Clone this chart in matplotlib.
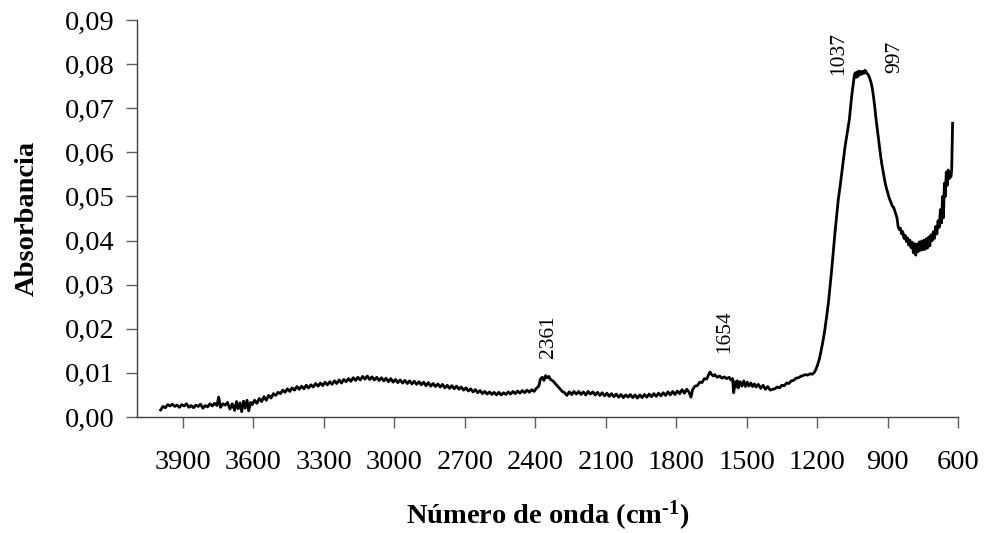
import numpy as np
import matplotlib
matplotlib.use("Agg")
import matplotlib.pyplot as plt
from matplotlib.ticker import FixedLocator, FuncFormatter

plt.rcParams['font.family'] = ['Liberation Serif', 'DejaVu Serif']
plt.rcParams['mathtext.fontset'] = 'custom'
plt.rcParams['mathtext.rm'] = 'Liberation Serif:bold'
plt.rcParams['mathtext.it'] = 'Liberation Serif:bold'
plt.rcParams['mathtext.bf'] = 'Liberation Serif:bold'

# FTIR spectrum: wavenumber (cm-1) and absorbance, listed band by band
wavenumber = [
    # 4000-3610: noisy low baseline
    3995, 3985, 3975, 3965, 3955, 3945, 3935, 3925, 3915, 3905, 3895, 3885, 3875, 3865, 3855, 3845,
    3835, 3825, 3815, 3805, 3795, 3785, 3775, 3765, 3755, 3748, 3740, 3730, 3720, 3710, 3700, 3690,
    3680, 3672, 3665, 3657, 3650, 3642, 3635, 3627, 3620, 3612,
    # 3605-2405: broad O-H hump
    3605, 3595, 3585, 3575, 3565, 3555, 3545, 3535, 3525, 3515, 3505, 3495, 3485, 3475, 3465, 3455,
    3445, 3435, 3425, 3415, 3405, 3395, 3385, 3375, 3365, 3355, 3345, 3335, 3325, 3315, 3305, 3295,
    3285, 3275, 3265, 3255, 3245, 3235, 3225, 3215, 3205, 3195, 3185, 3175, 3165, 3155, 3145, 3135,
    3125, 3115, 3105, 3095, 3085, 3075, 3065, 3055, 3045, 3035, 3025, 3015, 3005, 2995, 2985, 2975,
    2965, 2955, 2945, 2935, 2925, 2915, 2905, 2895, 2885, 2875, 2865, 2855, 2845, 2835, 2825, 2815,
    2805, 2795, 2785, 2775, 2765, 2755, 2745, 2735, 2725, 2715, 2705, 2695, 2685, 2675, 2665, 2655,
    2645, 2635, 2625, 2615, 2605, 2595, 2585, 2575, 2565, 2555, 2545, 2535, 2525, 2515, 2505, 2495,
    2485, 2475, 2465, 2455, 2445, 2435, 2425, 2415, 2405,
    # CO2 band
    2395, 2385, 2378, 2370, 2363, 2356, 2349, 2342, 2335, 2325, 2315, 2305, 2295, 2285, 2275,
    # 2265-1745: flat region
    2265, 2255, 2245, 2235, 2225, 2215, 2205, 2195, 2185, 2175, 2165, 2155, 2145, 2135, 2125, 2115,
    2105, 2095, 2085, 2075, 2065, 2055, 2045, 2035, 2025, 2015, 2005, 1995, 1985, 1975, 1965, 1955,
    1945, 1935, 1925, 1915, 1905, 1895, 1885, 1875, 1865, 1855, 1845, 1835, 1825, 1815, 1805, 1795,
    1785, 1775, 1765, 1755, 1745,
    # water bending band
    1737, 1730, 1720, 1710, 1700, 1690, 1680, 1670, 1662, 1656, 1650, 1642, 1635, 1625, 1615, 1605,
    1595, 1585, 1575, 1567, 1560, 1555, 1550, 1545, 1540, 1535, 1528, 1520, 1512, 1505, 1497, 1490,
    1482, 1475, 1467, 1460,
    # 1450-1212
    1450, 1440, 1430, 1420, 1410, 1400, 1390, 1380, 1370, 1360, 1350, 1340, 1330, 1320, 1310, 1300,
    1290, 1280, 1270, 1260, 1250, 1240, 1230, 1220, 1212,
    # strong Si-O band
    1205, 1198, 1190, 1183, 1175, 1167, 1160, 1152, 1145, 1138, 1131, 1124, 1117, 1110, 1102, 1095,
    1088, 1081, 1072, 1063, 1058, 1053, 1047, 1042, 1038, 1034, 1030, 1026, 1022, 1018, 1014, 1010,
    1005, 1000, 996, 991, 986, 981, 976, 970, 965, 960, 955, 950, 945, 940, 935, 930,
    925, 920, 915, 910, 905, 900, 895, 890, 885, 880, 875, 870, 865, 860, 855, 850,
    845, 840, 835, 830, 825, 820, 815, 810, 805, 800, 795, 790, 785, 780, 775, 770,
    765, 760, 755, 750, 745, 740, 735, 730, 725, 720, 715, 710, 705, 700, 695, 690,
    685, 680, 675, 670, 666, 662, 658, 654, 650, 646, 642, 638, 634, 630, 627, 625,
    623,
]

absorbance = [
    # 4000-3610
    0.0016, 0.0024, 0.0021, 0.0028, 0.0025, 0.0029, 0.0024, 0.0027, 0.0022, 0.0028, 0.0025, 0.0030, 0.0022, 0.0026, 0.0021, 0.0027,
    0.0024, 0.0029, 0.0020, 0.0026, 0.0023, 0.0030, 0.0025, 0.0031, 0.0026, 0.0045, 0.0022, 0.0030, 0.0027, 0.0033, 0.0018, 0.0030,
    0.0015, 0.0035, 0.0019, 0.0032, 0.0012, 0.0036, 0.0020, 0.0038, 0.0014, 0.0033,
    # 3605-2405
    0.0028, 0.0038, 0.0031, 0.0042, 0.0035, 0.0046, 0.0038, 0.0049, 0.0043, 0.0053, 0.0049, 0.0056, 0.0053, 0.0061, 0.0056, 0.0064,
    0.0058, 0.0066, 0.0061, 0.0069, 0.0063, 0.0070, 0.0064, 0.0072, 0.0066, 0.0073, 0.0068, 0.0076, 0.0070, 0.0077, 0.0071, 0.0079,
    0.0073, 0.0080, 0.0074, 0.0082, 0.0076, 0.0084, 0.0077, 0.0085, 0.0080, 0.0087, 0.0081, 0.0089, 0.0083, 0.0090, 0.0084, 0.0092,
    0.0086, 0.0093, 0.0085, 0.0091, 0.0084, 0.0090, 0.0083, 0.0089, 0.0082, 0.0088, 0.0080, 0.0087, 0.0079, 0.0085, 0.0078, 0.0084,
    0.0077, 0.0083, 0.0076, 0.0082, 0.0075, 0.0081, 0.0074, 0.0080, 0.0073, 0.0079, 0.0071, 0.0078, 0.0070, 0.0076, 0.0069, 0.0075,
    0.0068, 0.0074, 0.0066, 0.0072, 0.0065, 0.0071, 0.0064, 0.0070, 0.0063, 0.0068, 0.0061, 0.0066, 0.0059, 0.0064, 0.0057, 0.0062,
    0.0055, 0.0060, 0.0053, 0.0058, 0.0052, 0.0057, 0.0051, 0.0056, 0.0050, 0.0056, 0.0050, 0.0055, 0.0051, 0.0057, 0.0052, 0.0058,
    0.0053, 0.0059, 0.0054, 0.0060, 0.0055, 0.0061, 0.0056, 0.0062, 0.0058,
    # CO2 band
    0.0065, 0.0070, 0.0086, 0.0090, 0.0083, 0.0094, 0.0089, 0.0092, 0.0085, 0.0082, 0.0076, 0.0070, 0.0064, 0.0058, 0.0055,
    # 2265-1745
    0.0049, 0.0057, 0.0051, 0.0058, 0.0052, 0.0058, 0.0051, 0.0057, 0.0050, 0.0058, 0.0052, 0.0057, 0.0050, 0.0056, 0.0049, 0.0055,
    0.0048, 0.0054, 0.0047, 0.0053, 0.0046, 0.0052, 0.0045, 0.0051, 0.0044, 0.0050, 0.0045, 0.0051, 0.0044, 0.0050, 0.0043, 0.0050,
    0.0044, 0.0051, 0.0045, 0.0052, 0.0046, 0.0053, 0.0047, 0.0054, 0.0048, 0.0055, 0.0049, 0.0057, 0.0050, 0.0058, 0.0051, 0.0059,
    0.0053, 0.0062, 0.0054, 0.0063, 0.0056,
    # water bending band
    0.0045, 0.0062, 0.0070, 0.0071, 0.0079, 0.0078, 0.0087, 0.0086, 0.0096, 0.0102, 0.0097, 0.0093, 0.0096, 0.0090, 0.0093, 0.0088,
    0.0091, 0.0087, 0.0090, 0.0084, 0.0087, 0.0055, 0.0080, 0.0068, 0.0082, 0.0066, 0.0080, 0.0070, 0.0082, 0.0069, 0.0079, 0.0070,
    0.0077, 0.0069, 0.0075, 0.0068,
    # 1450-1212
    0.0074, 0.0065, 0.0072, 0.0063, 0.0069, 0.0061, 0.0063, 0.0064, 0.0068, 0.0066, 0.0072, 0.0071, 0.0077, 0.0076, 0.0082, 0.0083,
    0.0088, 0.0089, 0.0092, 0.0094, 0.0096, 0.0095, 0.0098, 0.0097, 0.0101,
    # strong Si-O band
    0.0108, 0.0118, 0.0132, 0.0150, 0.0172, 0.0198, 0.0225, 0.0258, 0.0295, 0.0333, 0.0375, 0.0417, 0.0455, 0.0492, 0.0523, 0.0553,
    0.0583, 0.0613, 0.0643, 0.0673, 0.0700, 0.0726, 0.0752, 0.0772, 0.0780, 0.0770, 0.0782, 0.0772, 0.0784, 0.0776, 0.0783, 0.0777,
    0.0784, 0.0779, 0.0786, 0.0782, 0.0778, 0.0775, 0.0768, 0.0758, 0.0745, 0.0727, 0.0705, 0.0680, 0.0658, 0.0636, 0.0615, 0.0594,
    0.0575, 0.0560, 0.0545, 0.0530, 0.0519, 0.0510, 0.0500, 0.0492, 0.0486, 0.0478, 0.0476, 0.0469, 0.0460, 0.0452, 0.0432, 0.0425,
    0.0428, 0.0415, 0.0420, 0.0405, 0.0412, 0.0398, 0.0406, 0.0390, 0.0401, 0.0384, 0.0396, 0.0372, 0.0393, 0.0367, 0.0392, 0.0375,
    0.0397, 0.0378, 0.0399, 0.0379, 0.0401, 0.0380, 0.0404, 0.0383, 0.0408, 0.0388, 0.0413, 0.0400, 0.0420, 0.0405, 0.0432, 0.0415,
    0.0445, 0.0430, 0.0470, 0.0440, 0.0500, 0.0452, 0.0530, 0.0500, 0.0555, 0.0525, 0.0560, 0.0540, 0.0550, 0.0545, 0.0560, 0.0620,
    0.0666,
]

# Band labels: text, wavenumber position, absorbance of the label base
band_labels = ["2361", "1654", "1037", "997"]
band_label_x = [2342, 1594, 1107, 868]
band_label_y = [0.0134, 0.0145, 0.0776, 0.0780]

x_ticks = [3900, 3600, 3300, 3000, 2700, 2400, 2100, 1800, 1500, 1200, 900, 600]
y_ticks = [0.00, 0.01, 0.02, 0.03, 0.04, 0.05, 0.06, 0.07, 0.08, 0.09]

fig = plt.figure(figsize=(9.85, 5.33), dpi=100)
ax = fig.add_axes([0.139, 0.2176, 0.8336, 0.7449])

ax.plot(wavenumber, absorbance, color='black', lw=2.0, solid_joinstyle='round')

ax.set_xlim(4096, 600)
ax.set_ylim(0, 0.09)

ax.xaxis.set_major_locator(FixedLocator(x_ticks))
ax.yaxis.set_major_locator(FixedLocator(y_ticks))
ax.yaxis.set_major_formatter(FuncFormatter(lambda v, p: f"{v:.2f}".replace('.', ',')))

for side in ('top', 'right'):
    ax.spines[side].set_visible(False)
for side in ('left', 'bottom'):
    ax.spines[side].set_color('#404040')
    ax.spines[side].set_linewidth(1.0)

ax.tick_params(axis='both', direction='out', length=8, width=1.0, color='#606060',
               labelsize=20.5, labelcolor='black')
ax.tick_params(axis='x', pad=16)
ax.tick_params(axis='y', pad=8)

for txt, bx, by in zip(band_labels, band_label_x, band_label_y):
    ax.text(bx, by, txt, rotation=90, ha='center', va='bottom', fontsize=15.5)

ax.set_ylabel('Absorbancia', fontsize=20.5, fontweight='bold', labelpad=18)
ax.set_xlabel(r'Número de onda (cm$^{\text{-1}}$)', fontsize=20.5, fontweight='bold', labelpad=16.5)

fig.savefig('out.png', dpi=100)
